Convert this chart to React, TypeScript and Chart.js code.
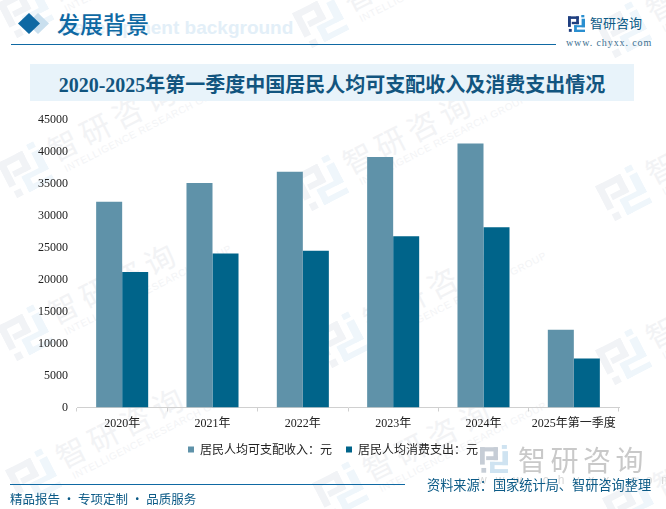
import React, { useEffect, useRef } from 'react';
import { Chart, ChartConfiguration, registerables } from 'chart.js';

Chart.register(...registerables);

const categories = ['2020年', '2021年', '2022年', '2023年', '2024年', '2025年第一季度'];
const incomeValues = [32189, 35128, 36883, 39218, 41314, 12179];
const spendingValues = [21210, 24100, 24538, 26796, 28227, 7653];
const seriesNames = ['居民人均可支配收入：元', '居民人均消费支出：元'];
const titleText = '2020-2025年第一季度中国居民人均可支配收入及消费支出情况';

const CJK = '"Noto Sans CJK SC", sans-serif';
const MIXED = '"Liberation Serif", "Noto Sans CJK SC", serif';
const BLUE = '#0f69a3';
const DARK = '#0b5a86';

// logo centres of the faint background stamps
const stamps = [
  [25, 10], [320, 20], [623, 30],
  [25, 170], [320, 183], [623, 193],
  [25, 333], [340, 340], [623, 357],
  [33, 477], [340, 490], [630, 505],
];

// logo artwork on a 100x100 grid
const Logo = ({ size, left, right, style }: { size: number; left: string; right: string; style: React.CSSProperties }) => (
  <svg width={size} height={size} viewBox="0 0 100 100" style={{ position: 'absolute', ...style }}>
    <g fill={left}>
      <rect x="0" y="8" width="64" height="15" />
      <rect x="0" y="8" width="17" height="62" />
      <rect x="48" y="8" width="16" height="46" />
      <rect x="22" y="40" width="42" height="14" />
      <rect x="5" y="82" width="17" height="17" />
    </g>
    <g fill={right}>
      <rect x="78" y="0" width="18" height="14" />
      <rect x="80" y="22" width="20" height="50" />
      <rect x="36" y="60" width="64" height="12" />
      <rect x="36" y="60" width="16" height="40" />
      <rect x="36" y="86" width="64" height="14" />
    </g>
  </svg>
);

const Stamp = ({ x, y }: { x: number; y: number }) => (
  <div style={{ position: 'absolute', left: x, top: y, width: 0, height: 0, transform: 'rotate(-27deg)', whiteSpace: 'nowrap' }}>
    <Logo size={44} left="#f1f3f6" right="#eff6fb" style={{ left: -22, top: -22 }} />
    <div style={{ position: 'absolute', left: 30, top: -24, fontSize: 30, letterSpacing: 6, lineHeight: '36px', color: '#f2f3f5', fontFamily: CJK }}>智研咨询</div>
    <div style={{ position: 'absolute', left: 36, top: 12, fontSize: 10, letterSpacing: 0.6, lineHeight: '12px', color: '#f3f4f6', fontFamily: '"Liberation Sans"' }}>INTELLIGENCE RESEARCH GROUP</div>
  </div>
);

const App: React.FC = () => {
  const chartRef = useRef<HTMLCanvasElement>(null);

  useEffect(() => {
    if (!chartRef.current) return;
    const config: ChartConfiguration = {
      type: 'bar',
      data: {
        labels: categories,
        datasets: [
          { label: seriesNames[0], data: incomeValues, backgroundColor: '#5f92a9', barPercentage: 1, categoryPercentage: 0.576, yAxisID: 'y' },
          { label: seriesNames[1], data: spendingValues, backgroundColor: '#00648a', barPercentage: 1, categoryPercentage: 0.576, yAxisID: 'y' }
        ]
      },
      options: {
        responsive: false,
        animation: false,
        layout: { padding: { left: 0, right: 0, top: 120, bottom: 49.5 } },
        scales: {
          x: {
            afterFit: (scale) => { scale.height = 22; },
            grid: { drawOnChartArea: false, tickLength: 4, color: '#d0d0d0' },
            border: { color: '#d0d0d0' },
            ticks: { color: '#222', font: { family: MIXED, size: 12 }, padding: 5, maxRotation: 0, autoSkip: false }
          },
          y: {
            min: 0,
            max: 45000,
            afterFit: (scale) => { scale.width = 77; },
            grid: { display: false },
            border: { display: false },
            ticks: { stepSize: 5000, color: '#222', font: { family: MIXED, size: 12 }, padding: 1, callback: (value) => String(value) }
          },
          // empty axis, only keeps the right margin without moving the legend
          margin: {
            position: 'right',
            afterFit: (scale) => { scale.width = 47; },
            grid: { display: false },
            border: { display: false },
            ticks: { display: false }
          }
        },
        plugins: {
          title: { display: false },
          tooltip: { enabled: false },
          legend: {
            position: 'bottom',
            maxHeight: 30,
            labels: { boxWidth: 6, boxHeight: 6, color: '#222', font: { family: CJK, size: 12 }, padding: 14 }
          }
        }
      }
    };
    const chart = new Chart(chartRef.current, config);
    return () => chart.destroy();
  }, []);

  return (
    <div style={{ position: 'fixed', left: 0, top: 0, width: 666, height: 509, overflow: 'hidden', background: '#fff', fontFamily: CJK }}>
      {stamps.map(([x, y], i) => <Stamp key={i} x={x} y={y} />)}

      <div style={{ position: 'absolute', left: 60, top: 17, fontSize: 19, fontWeight: 700, color: '#e3eff8', fontFamily: '"Liberation Sans"', whiteSpace: 'nowrap' }}>Development background</div>
      <div style={{ position: 'absolute', left: 27, top: 13, width: 22, height: 21, background: '#c9dfee', clipPath: 'polygon(50% 0, 100% 50%, 50% 100%, 0 50%)' }} />
      <div style={{ position: 'absolute', left: 18, top: 13, width: 22, height: 21, background: BLUE, clipPath: 'polygon(50% 0, 100% 50%, 50% 100%, 0 50%)' }} />
      <div style={{ position: 'absolute', left: 57, top: 6, fontSize: 23, fontWeight: 500, color: BLUE, lineHeight: '34px', whiteSpace: 'nowrap' }}>发展背景</div>
      <div style={{ position: 'absolute', left: 11, top: 44, width: 545, height: 1, background: BLUE }} />
      <Logo size={17} left="#1f3f80" right="#2a8fd0" style={{ left: 568, top: 15 }} />
      <div style={{ position: 'absolute', left: 590, top: 13, fontSize: 13, color: DARK, lineHeight: '19px', whiteSpace: 'nowrap' }}>智研咨询</div>
      <div style={{ position: 'absolute', left: 566, top: 37, fontSize: 10, color: '#3b6f8f', fontFamily: '"Liberation Serif"', letterSpacing: 0.9, lineHeight: '12px', whiteSpace: 'nowrap' }}>www. chyxx. com</div>

      <div style={{ position: 'absolute', left: 30, top: 64, width: 604, height: 37, background: '#e8f3fa' }} />
      <div style={{ position: 'absolute', left: 30, top: 64, width: 604, height: 37, textAlign: 'center', lineHeight: '42px', fontSize: 20, fontWeight: 700, color: '#12557f', whiteSpace: 'nowrap', fontFamily: MIXED }}>{titleText}</div>

      <canvas ref={chartRef} width={666} height={509} style={{ position: 'absolute', left: 0, top: 0 }} />

      <Logo size={28} left="#c6cdd6" right="#cfe3f1" style={{ left: 480, top: 445 }} />
      <div style={{ position: 'absolute', left: 518, top: 439, fontSize: 28, color: '#c9c9c9', letterSpacing: 4.5, lineHeight: '40px', whiteSpace: 'nowrap' }}>智研咨询</div>
      <div style={{ position: 'absolute', left: 478, top: 473, fontSize: 12, color: '#d8d8d8', letterSpacing: 9, lineHeight: '14px', fontFamily: '"Liberation Sans"', whiteSpace: 'nowrap' }}>www.chyxx.com</div>

      <div style={{ position: 'absolute', left: 10, top: 484, width: 395, height: 1, background: BLUE }} />
      <div style={{ position: 'absolute', left: 10, top: 489, fontSize: 12.5, color: DARK, lineHeight: '19px', whiteSpace: 'nowrap' }}>精品报告 · 专项定制 · 品质服务</div>
      <div style={{ position: 'absolute', left: 427, top: 475, fontSize: 13.2, color: DARK, lineHeight: '19px', whiteSpace: 'nowrap' }}>资料来源：国家统计局、智研咨询整理</div>
    </div>
  );
};

export default App;
